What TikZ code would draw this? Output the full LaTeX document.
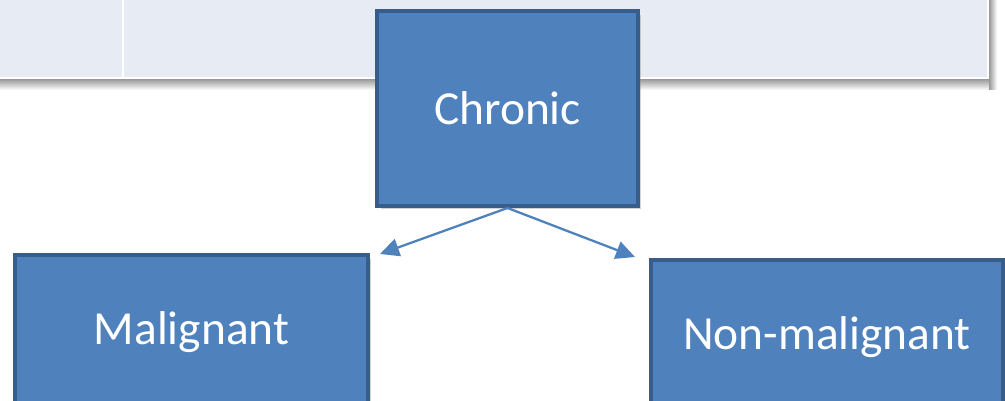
\documentclass[tikz,border=0pt]{standalone}
\usepackage{fontspec}
\setmainfont{Carlito}
\usetikzlibrary{arrows.meta,positioning,shadows}
\definecolor{Fill}{HTML}{4F81BD}
\definecolor{Edge}{HTML}{385D8A}
\definecolor{Panel}{HTML}{E7ECF4}

\begin{document}
\begin{tikzpicture}[x=0.02cm,y=-0.02cm, b/.style={draw=Edge,fill=Fill,line width=2.3pt,text=white,font=\fontsize{27}{32}\selectfont,drop shadow={shadow xshift=0.07cm,shadow yshift=-0.07cm,opacity=.35}}, a/.style={-{Triangle[length=3.8mm,width=3.6mm]},draw=Fill,line width=1.3pt}]
  \useasboundingbox (0,0) rectangle (1005,401);
  \clip (0,0) rectangle (1005,401);
  % table behind
  \shade[top color=black!40,bottom color=white] (0,79) rectangle (990,90);
  \shade[left color=black!40,right color=white] (989,0) rectangle (997,90);
  \fill[Panel] (-5,-5) rectangle (988,78);
  \draw[white,line width=1.2pt] (-5,78) -- (988,78) -- (988,-5) (123,-5) -- (123,78);
  % boxes
  \node[b,minimum width=5.22cm,minimum height=3.9cm] (chr) at (507.5,108.5) {Chronic};
  \node[b,minimum width=7.06cm,minimum height=3.08cm,anchor=north] (mal) at (191.5,253) {Malignant};
  \node[b,minimum width=7.04cm,minimum height=3.08cm,anchor=north] (non) at (827,258) {Non-malignant};
  \coordinate (ml) at (380,254); \coordinate (nm) at (635,257);
  \draw[a] (chr.south) -- (ml); \draw[a] (chr.south) -- (nm);
\end{tikzpicture}
\end{document}
